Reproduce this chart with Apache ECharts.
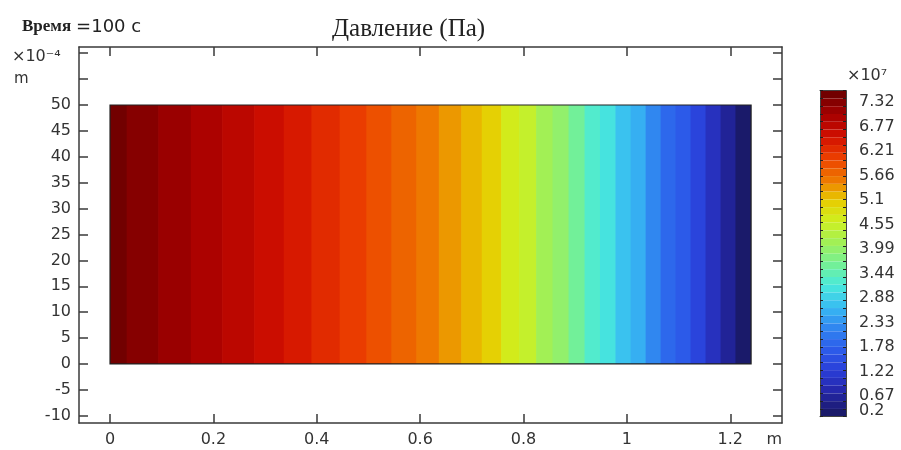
<!DOCTYPE html>
<html><head><meta charset="utf-8">
<script src="https://cdn.jsdelivr.net/npm/echarts@6/dist/echarts.min.js"></script>
<style>html,body{margin:0;padding:0;background:#fff}#c{width:901px;height:450px}</style>
</head><body><div id="c"></div>
<script>
// Band boundaries along the domain length (m)
const bandEdges = [0, 0.0323, 0.0933, 0.1565, 0.2169, 0.2788, 0.3361, 0.3896, 0.4443, 0.4959,
  0.5442, 0.5925, 0.6361, 0.6794, 0.7192, 0.7567, 0.7914, 0.8243, 0.8561, 0.8871, 0.9180,
  0.9479, 0.9779, 1.0072, 1.0362, 1.0652, 1.0941, 1.1231, 1.1521, 1.1811, 1.2100, 1.2402];
// Pressure level of each band (x10^7 Pa)
const bandPressure = [7.49, 7.32, 7.14, 6.97, 6.79, 6.61, 6.44, 6.26, 6.09, 5.91, 5.74, 5.56, 5.38, 5.21,
  5.03, 4.68, 4.51, 4.15, 3.98, 3.63, 3.28, 3.10, 2.75, 2.57, 2.22, 1.87, 1.70, 1.34, 0.99, 0.64, 0.29];
// Domain height (x10^-4 m)
const domainY = [0, 50];

// Axis ticks / labels
const xTicks = [0, 0.2, 0.4, 0.6, 0.8, 1, 1.2];
const xTickLabels = ['0', '0.2', '0.4', '0.6', '0.8', '1', '1.2'];
const yTicks = [-10, -5, 0, 5, 10, 15, 20, 25, 30, 35, 40, 45, 50, 55, 60];
const yLabelValues = [-10, -5, 0, 5, 10, 15, 20, 25, 30, 35, 40, 45, 50];
const cbLabelValues = [0.2, 0.67, 1.22, 1.78, 2.33, 2.88, 3.44, 3.99, 4.55, 5.1, 5.66, 6.21, 6.77, 7.32];
const cbLabelTexts = ['0.2', '0.67', '1.22', '1.78', '2.33', '2.88', '3.44', '3.99', '4.55', '5.1', '5.66', '6.21', '6.77', '7.32'];
const cbMin = 0.2, cbMax = 7.58, cbLevels = 42;
const rainbow = ['#1a1a6a', '#2426a8', '#2a3ed8', '#2c5cea', '#3086f0', '#38bcf2', '#48eadc', '#74f096',
  '#a0f058', '#cef020', '#e8cc00', '#ee7600', '#ec4000', '#d21000', '#a80000', '#720000'];

const axisColor = '#3a3a3a';
const lbl = { color: '#333', fontFamily: 'DejaVu Sans', fontSize: 16 };
function pick(vals, texts) {
  return function (v) {
    for (let i = 0; i < vals.length; i++) if (Math.abs(vals[i] - v) < 1e-9) return texts[i];
    return '';
  };
}
const frameAxis = (extra) => Object.assign({
  type: 'value',
  axisLine: { show: true, onZero: false, lineStyle: { color: axisColor, width: 1.5 } },
  splitLine: { show: false },
  axisLabel: { show: false }
}, extra);

const chart = echarts.init(document.getElementById('c'), null, { renderer: 'canvas' });
const cbInterval = (cbMax - cbMin) / cbLevels;
chart.setOption({
  animation: false,
  backgroundColor: '#fff',
  title: [
    { text: 'Давление (Па)', left: 332, top: 17, padding: 0,
      textStyle: { fontFamily: 'Liberation Serif', fontSize: 25, fontWeight: 'normal', color: '#222' } },
    { text: '{a|Время} {b|=100 с}', left: 22, top: 18, padding: 0,
      textStyle: { fontWeight: 'normal', rich: {
        a: { fontFamily: 'Liberation Serif', fontWeight: 'bold', fontSize: 17, color: '#222' },
        b: { fontFamily: 'DejaVu Sans', fontWeight: 'normal', fontSize: 18, color: '#222' } } } },
    { text: '×10⁻⁴', left: 12, top: 49, padding: 0,
      textStyle: { fontFamily: 'DejaVu Sans', fontSize: 16, fontWeight: 'normal', color: '#333' } },
    { text: 'm', left: 14, top: 72, padding: 0,
      textStyle: { fontFamily: 'DejaVu Sans', fontSize: 15, fontWeight: 'normal', color: '#333' } },
    { text: '×10⁷', left: 847, top: 68, padding: 0,
      textStyle: { fontFamily: 'DejaVu Sans', fontSize: 16, fontWeight: 'normal', color: '#333' } }
  ],
  grid: [
    { left: 79, top: 47, width: 703, height: 376 },
    { left: 820, top: 90.7, width: 26, height: 326 }
  ],
  xAxis: [
    frameAxis({ gridIndex: 0, min: -0.06, max: 1.3, position: 'bottom',
      axisTick: { show: true, inside: true, length: 9, customValues: xTicks, lineStyle: { color: axisColor, width: 1.5 } },
      axisLabel: Object.assign({ show: true, customValues: xTicks, formatter: pick(xTicks, xTickLabels), margin: 9 }, lbl),
      name: 'm', nameLocation: 'end', nameGap: 0,
      nameTextStyle: Object.assign({ align: 'right', verticalAlign: 'top', padding: [9, 0, 0, 0] }, lbl) }),
    frameAxis({ gridIndex: 0, min: -0.06, max: 1.3, position: 'top',
      axisTick: { show: true, inside: true, length: 9, customValues: xTicks, lineStyle: { color: axisColor, width: 1.5 } } }),
    frameAxis({ gridIndex: 1, min: 0, max: 1, position: 'bottom', z: 10, axisTick: { show: false },
      axisLine: { show: true, onZero: false, lineStyle: { color: '#444', width: 1 } } }),
    frameAxis({ gridIndex: 1, min: 0, max: 1, position: 'top', z: 10, axisTick: { show: false },
      axisLine: { show: true, onZero: false, lineStyle: { color: '#444', width: 1 } } })
  ],
  yAxis: [
    frameAxis({ gridIndex: 0, min: -11.4, max: 61.2, position: 'left',
      axisTick: { show: true, inside: true, length: 9, customValues: yTicks, lineStyle: { color: axisColor, width: 1.5 } },
      axisLabel: Object.assign({ show: true, customValues: yLabelValues, margin: 8 }, lbl) }),
    frameAxis({ gridIndex: 0, min: -11.4, max: 61.2, position: 'right',
      axisTick: { show: true, inside: true, length: 9, customValues: yTicks, lineStyle: { color: axisColor, width: 1.5 } } }),
    frameAxis({ gridIndex: 1, min: cbMin, max: cbMax, interval: cbInterval, position: 'left', z: 10,
      axisLine: { show: true, onZero: false, lineStyle: { color: '#444', width: 1 } },
      axisTick: { show: true, inside: true, length: 3, lineStyle: { color: '#222', width: 1 } } }),
    frameAxis({ gridIndex: 1, min: cbMin, max: cbMax, interval: cbInterval, position: 'right', z: 10,
      axisLine: { show: true, onZero: false, lineStyle: { color: '#444', width: 1 } },
      axisTick: { show: true, inside: true, length: 3, lineStyle: { color: '#222', width: 1 } },
      axisLabel: Object.assign({ show: true, customValues: cbLabelValues.slice(1), margin: 13,
        formatter: pick(cbLabelValues, cbLabelTexts) }, lbl) }),
    frameAxis({ gridIndex: 1, min: cbMin, max: cbMax, position: 'right', z: 10,
      axisLine: { show: false }, axisTick: { show: false },
      axisLabel: Object.assign({ show: true, customValues: cbLabelValues.slice(0, 1), margin: 13,
        showMinLabel: true, verticalAlign: 'bottom', lineHeight: 16, padding: [0, 0, -2, 0],
        formatter: pick(cbLabelValues, cbLabelTexts) }, lbl) })
  ],
  visualMap: {
    type: 'piecewise', seriesIndex: 0, dimension: 2, min: cbMin, max: cbMax, splitNumber: cbLevels,
    orient: 'vertical', left: 820, top: 90.7, padding: 0, itemWidth: 26, itemHeight: 326 / cbLevels,
    itemGap: 0, itemSymbol: 'rect', showLabel: false, selectedMode: false, hoverLink: false,
    inRange: { color: rainbow }
  },
  series: [
    {
      type: 'custom', xAxisIndex: 0, yAxisIndex: 0,
      dimensions: ['x0', 'x1', 'p'],
      encode: { x: [0, 1] },
      data: bandPressure.map((p, i) => [bandEdges[i], bandEdges[i + 1], p]),
      renderItem: function (params, api) {
        const a = api.coord([api.value(0), domainY[1]]);
        const b = api.coord([api.value(1), domainY[0]]);
        const extra = params.dataIndex < bandPressure.length - 1 ? 0.7 : 0;
        return { type: 'rect', shape: { x: a[0], y: a[1], width: b[0] - a[0] + extra, height: b[1] - a[1] },
          style: { fill: api.visual('color') } };
      }
    },
    {
      type: 'custom', xAxisIndex: 0, yAxisIndex: 0, z: 3,
      data: [[bandEdges[0], bandEdges[bandEdges.length - 1]]],
      encode: { x: [0, 1] },
      renderItem: function (params, api) {
        const a = api.coord([api.value(0), domainY[1]]);
        const b = api.coord([api.value(1), domainY[0]]);
        return { type: 'rect', shape: { x: a[0], y: a[1], width: b[0] - a[0], height: b[1] - a[1] },
          style: { fill: null, stroke: '#222', lineWidth: 1.2 } };
      }
    }
  ]
});
</script></body></html>
